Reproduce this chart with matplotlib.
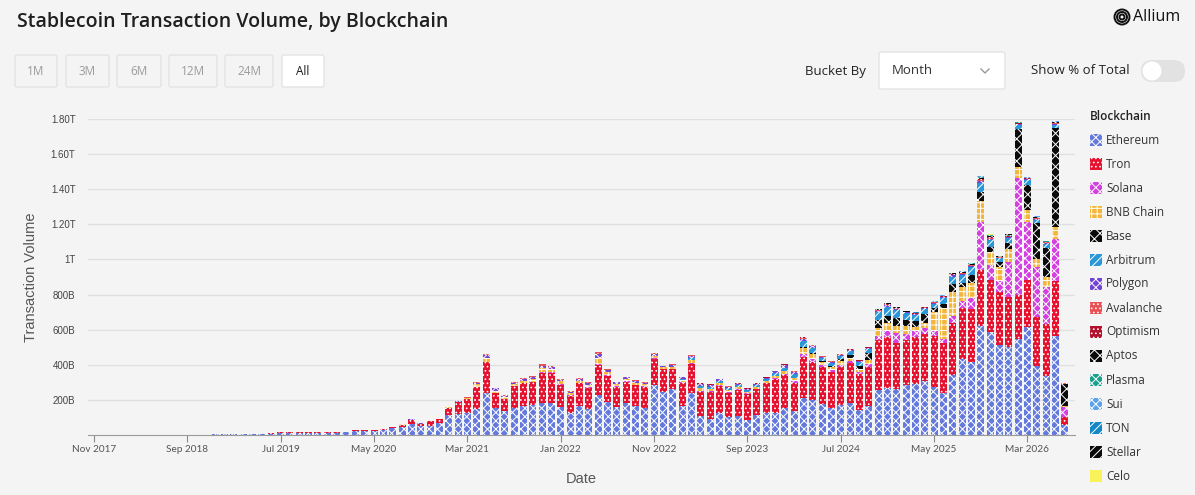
import numpy as np
import pandas as pd
import matplotlib
matplotlib.use("Agg")
import matplotlib.pyplot as plt
from matplotlib.patches import Rectangle, FancyBboxPatch, Circle

# monthly buckets, Nov 2017 .. Jul 2026 (values in billions USD)
months = pd.date_range("2017-11-01", periods=105, freq="MS")

ethereum = [0.5, 0.5, 0.6, 0.6, 0.8, 0.8, 1, 1, 1.2, 1.5,
            1.5, 2, 2, 3, 3, 4, 4, 5, 6, 8,
            14, 13, 13, 14, 13, 14, 13, 15, 22, 22,
            24, 28, 38, 44, 61, 51, 53, 70, 112, 118,
            127, 150, 238, 152, 137, 156, 163, 169, 180, 184,
            161, 127, 165, 146, 228, 190, 161, 184, 165, 154,
            285, 247, 260, 165, 237, 108, 89, 127, 101, 108,
            85, 114, 123, 127, 152, 137, 209, 199, 175, 152,
            171, 180, 140, 165, 258, 266, 260, 285, 291, 310,
            272, 241, 342, 431, 418, 621, 589, 513, 500, 545,
            613, 393, 336, 564, 57]
tron = [0, 0, 0, 0, 0, 0, 0, 0, 0, 0,
        0, 0, 0, 0, 0, 0, 0.5, 0.5, 1, 1,
        5, 2, 2, 2, 2, 2, 2, 2, 4, 5,
        5, 5, 8, 15, 26, 13, 24, 19, 44, 68,
        78, 125, 180, 85, 68, 123, 131, 135, 171, 171,
        124, 97, 129, 120, 171, 146, 114, 120, 118, 121,
        148, 127, 114, 133, 167, 139, 156, 152, 140, 148,
        149, 146, 171, 190, 190, 161, 233, 219, 210, 209,
        218, 228, 205, 224, 283, 294, 266, 256, 269, 263,
        292, 281, 298, 291, 300, 318, 294, 304, 288, 253,
        270, 277, 294, 315, 48]
solana = [0] * 48 + [8, 6, 5, 4, 4, 6, 8, 6, 4, 4, 4, 4, 5, 3, 4,
                     3, 5, 5, 4, 4, 4, 4, 3, 3, 3, 5, 6, 7,
                     20, 17, 12, 11, 12, 13, 12, 14,
                     23, 34, 57, 34, 32, 34, 30, 27, 38, 43, 61, 276, 85, 62,
                     199, 664, 332, 285, 215, 236, 53]
bnb = [0] * 31 + [1, 1, 1, 1, 1, 2, 2, 3, 4, 5,
                  14, 21, 16, 11, 10, 15, 16,
                  21, 15, 15, 10, 12, 15, 30, 17, 12, 11, 12, 11, 13, 8, 12,
                  10, 16, 14, 14, 13, 11, 11, 10, 10, 10, 15, 18, 20,
                  34, 28, 19, 18, 20, 20, 18, 22,
                  43, 42, 37, 45, 25, 32, 109, 173, 139, 80, 85, 120, 77, 80,
                  71, 66, 66, 46, 53, 68, 7]
base = [0] * 76 + [5, 5, 4, 4, 10, 15, 20, 40,
                   48, 42, 44, 35, 32, 50, 19, 24, 43, 23, 47, 51, 28, 28,
                   34, 213, 143, 205, 166, 568, 125]
arbitrum = [0] * 63 + [10, 16, 14, 13, 12, 12, 12, 10, 10, 10, 15, 18, 20,
                       35, 28, 18, 17, 20, 20, 19, 23,
                       48, 50, 48, 38, 34, 29, 24, 33, 42, 41, 48, 51, 38, 19,
                       28, 25, 28, 19, 25, 15, 2]
polygon = [0] * 33 + [1, 1, 1, 1, 1, 1, 2, 3,
                      9, 16, 12, 8, 8, 11, 11,
                      15, 11, 11, 7, 9, 11, 24, 13, 9, 9, 9, 8, 10, 7, 9,
                      7, 10, 9, 9, 9, 7, 7, 6, 7, 7, 10, 12, 14,
                      12, 10, 7, 6, 6, 7, 6, 7,
                      6, 10, 7, 5, 6, 5, 6, 6, 7, 8, 6, 10, 8, 5,
                      6, 5, 5, 6, 5, 6, 1]
avalanche = [0] * 37 + [1, 1, 2, 2,
                        4, 6, 5, 4, 3, 5, 5,
                        8, 6, 5, 4, 4, 6, 10, 6, 4, 4, 5, 4, 4, 3, 4,
                        2, 2, 2, 2, 2, 2, 2, 1, 2, 2, 2, 3, 3,
                        5, 4, 3, 3, 3, 3, 3, 3,
                        3, 5, 4, 3, 3, 3, 3, 3, 4, 4, 4, 6, 5, 3,
                        4, 3, 3, 4, 3, 4, 1]
optimism = [0] * 63 + [2, 3, 3, 3, 2, 2, 2, 2, 2, 2, 2, 3, 4,
                       3, 3, 2, 2, 2, 2, 2, 2,
                       2, 3, 2, 2, 2, 2, 2, 2, 3, 3, 2, 4, 3, 2,
                       2, 2, 2, 2, 2, 2, 0]
aptos = [0] * 84 + [2, 4, 3, 2, 2, 1, 3, 3, 4, 5, 3, 6, 5, 2, 3, 2, 2, 3, 2, 3, 1]
plasma = [0] * 94 + [3, 8, 6, 2, 4, 3, 2, 4, 2, 4, 1]
sui = [0] * 84 + [1, 2, 1, 1, 1, 1, 1, 2, 2, 3, 2, 3, 2, 1, 2, 1, 1, 1, 1, 1, 0]
ton = [0] * 84 + [1, 1, 1, 0, 1, 1, 1, 1, 1, 2, 1, 1, 1, 1, 1, 1, 1, 1, 1, 1, 0]
stellar = [0] * 84 + [0, 1, 1, 0, 0, 0, 1, 0, 1, 1, 1, 1, 1, 0, 1, 0, 0, 1, 0, 1, 0]
celo = [0] * 84 + [0, 0, 0, 0, 0, 0, 0, 1, 1, 1, 0, 1, 1, 0, 0, 0, 0, 0, 0, 0, 0]

chains = ["Ethereum", "Tron", "Solana", "BNB Chain", "Base", "Arbitrum", "Polygon",
          "Avalanche", "Optimism", "Aptos", "Plasma", "Sui", "TON", "Stellar", "Celo"]
series = [ethereum, tron, solana, bnb, base, arbitrum, polygon,
          avalanche, optimism, aptos, plasma, sui, ton, stellar, celo]

# colour + hatch for each chain (same order as legend)
styles = [("#6379dc", "xxxx"), ("#e5112e", "...."), ("#d43fe0", "xxxx"),
          ("#f3b53a", "+++"), ("#0a0a0a", "xxx"), ("#2a98d8", "////"),
          ("#7443d6", "xxxx"), ("#ea4f53", "...."), ("#b3102c", "...."),
          ("#0a0a0a", "xxx"), ("#17a08c", "xxxx"), ("#5aa2ea", "xxxx"),
          ("#1487c9", "////"), ("#0a0a0a", "////"), ("#f8f35a", "")]

ytick_vals = [200, 400, 600, 800, 1000, 1200, 1400, 1600, 1800]
ytick_labels = ["200B", "400B", "600B", "800B", "1T", "1.20T", "1.40T", "1.60T", "1.80T"]

plt.rcParams["hatch.linewidth"] = 0.7
plt.rcParams["font.family"] = ["Open Sans", "DejaVu Sans"]

BG = "#f4f4f4"
fig = plt.figure(figsize=(11.95, 4.95), dpi=100, facecolor=BG)

# overlay in pixel coords for header / legend
ui = fig.add_axes([0, 0, 1, 1])
ui.set_xlim(0, 1195)
ui.set_ylim(495, 0)
ui.axis("off")

ui.text(17, 22, "Stablecoin Transaction Volume, by Blockchain", fontsize=14,
        fontweight="semibold", color="#1f1f1f", va="center", ha="left")

buttons = [(15, 57, "1M"), (66, 109, "3M"), (117, 161, "6M"),
           (169, 217, "12M"), (225, 273, "24M"), (282, 324, "All")]
for x0, x1, lab in buttons:
    sel = lab == "All"
    ui.add_patch(FancyBboxPatch((x0, 55), x1 - x0, 32,
                                boxstyle="round,pad=0,rounding_size=2",
                                fc="white" if sel else BG, ec="#e3e3e3", lw=1))
    ui.text((x0 + x1) / 2, 71.5, lab, fontsize=8.5, ha="center", va="center",
            color="#1a1a1a" if sel else "#9b9b9b")

# Allium logo
for r in (7.5, 5, 2.5):
    ui.add_patch(Circle((1122, 17), r, fill=False, ec="#111", lw=1.4))
ui.text(1133, 17, "Allium", fontsize=11.5, va="center", ha="left", color="#111")

ui.text(805, 71, "Bucket By", fontsize=9.5, fontweight="medium", va="center",
        ha="left", color="#222")
ui.add_patch(FancyBboxPatch((879, 52), 126, 37, boxstyle="round,pad=0,rounding_size=2",
                            fc="white", ec="#e3e3e3", lw=1))
ui.text(892, 71, "Month", fontsize=9.5, va="center", ha="left", color="#333")
ui.plot([981, 985, 989], [69, 73, 69], color="#999", lw=1)
ui.text(1031, 71, "Show % of Total", fontsize=9.5, fontweight="medium", va="center",
        ha="left", color="#222")
ui.add_patch(FancyBboxPatch((1141, 60), 44, 22, boxstyle="round,pad=0,rounding_size=11",
                            fc="#e2e2e2", ec="none"))
ui.add_patch(Circle((1152, 71), 9.5, fc="white", ec="none"))

# legend
ui.text(1090, 116, "Blockchain", fontsize=8.5, fontweight="semibold",
        va="center", ha="left", color="#222")
for k, (name, (col, hat)) in enumerate(zip(chains, styles)):
    yc = 140 + 24 * k
    ui.add_patch(Rectangle((1090, yc - 6), 12, 12, fc=col, ec="white", hatch=hat, lw=0))
    ui.text(1106, yc, name, fontsize=8.5, va="center", ha="left", color="#333")

# main chart
ax = fig.add_axes([88 / 1195, 60 / 495, (1075 - 88) / 1195, (435 - 119) / 495])
ax.patch.set_visible(False)

x = np.arange(len(months))
bottom = np.zeros(len(months))
for vals, (col, hat) in zip(series, styles):
    v = np.array(vals, dtype=float)
    ax.bar(x, v, width=0.75, bottom=bottom, color=col, edgecolor="white",
           hatch=hat, linewidth=0)
    bottom += v

ax.set_xlim(-0.64, 105.1)
ax.set_ylim(0, 1800)
ax.set_yticks(ytick_vals)
ax.set_yticklabels(ytick_labels, family=["Liberation Sans"], fontsize=7, color="#444")
ax.tick_params(axis="y", length=0, pad=9)
ax.yaxis.grid(True, color="#e0e0e0", lw=1)
ax.set_axisbelow(True)

tick_idx = x[::10]
ax.set_xticks(tick_idx)
ax.set_xticklabels([months[i].strftime("%b %Y") for i in tick_idx],
                   family=["Lato", "DejaVu Sans"], fontsize=7.2, color="#555")
ax.tick_params(axis="x", length=5, color="#888", pad=2)

for s in ("top", "right", "left"):
    ax.spines[s].set_visible(False)
ax.spines["bottom"].set_color("#999")

ax.set_ylabel("Transaction Volume", family=["Liberation Sans"], fontsize=10.5,
              color="#555", labelpad=9)
ax.set_xlabel("Date", family=["Liberation Sans"], fontsize=10.5, color="#555", labelpad=13)

fig.savefig("out.png", dpi=100, facecolor=BG)
